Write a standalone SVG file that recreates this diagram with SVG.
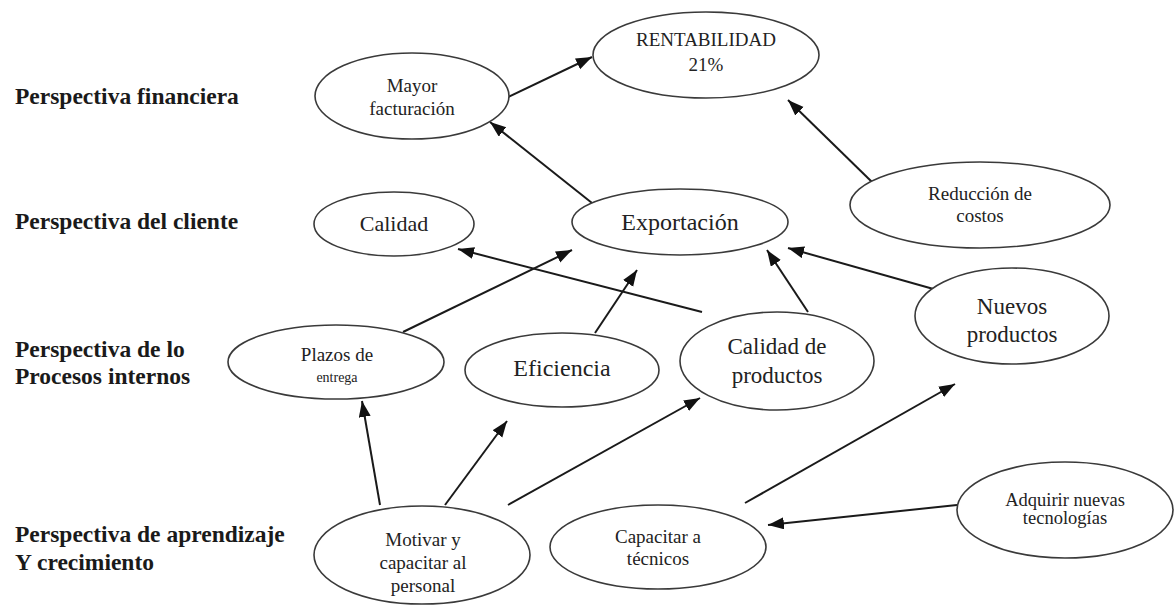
<svg xmlns="http://www.w3.org/2000/svg" width="1174" height="615" viewBox="0 0 1174 615">
<style>
.n ellipse{fill:#fff;stroke:#3a3a3a;stroke-width:1.6}
.t{font-family:"Liberation Serif","Times New Roman",serif;fill:#222;text-anchor:middle}
.h{font-family:"Liberation Serif","Times New Roman",serif;font-weight:bold;fill:#1a1a1a;font-size:23.5px}
#edges line{stroke:#1a1a1a;stroke-width:2;marker-end:url(#ah)}
</style>
<defs>
<marker id="ah" markerUnits="userSpaceOnUse" markerWidth="18" markerHeight="14" refX="16" refY="6" orient="auto">
<path d="M0,0 L16,6 L0,12 Z" fill="#111"/>
</marker>
</defs>
<rect width="1174" height="615" fill="#fff"/>
<g id="labels">
<text class="h" x="15" y="104">Perspectiva financiera</text>
<text class="h" x="15" y="229">Perspectiva del cliente</text>
<text class="h" x="15" y="357">Perspectiva de lo</text>
<text class="h" x="15" y="384">Procesos internos</text>
<text class="h" x="15" y="542">Perspectiva de aprendizaje</text>
<text class="h" x="15" y="570">Y crecimiento</text>
</g>
<g id="edges">
<line x1="508" y1="97" x2="592" y2="57"/>
<line x1="592" y1="203" x2="490" y2="122"/>
<line x1="872" y1="182" x2="788" y2="100"/>
<line x1="403" y1="332" x2="572" y2="250"/>
<line x1="595" y1="333" x2="637" y2="270"/>
<line x1="702" y1="312" x2="458" y2="249"/>
<line x1="808" y1="312" x2="767" y2="250"/>
<line x1="937" y1="290" x2="788" y2="248"/>
<line x1="380" y1="505" x2="362" y2="401"/>
<line x1="445" y1="505" x2="507" y2="421"/>
<line x1="508" y1="505" x2="700" y2="398"/>
<line x1="745" y1="503" x2="955" y2="384"/>
<line x1="957" y1="505" x2="768" y2="525"/>
</g>
<g id="mayor" class="n"><ellipse cx="412" cy="96" rx="97" ry="43"/>
<text class="t" x="412" y="92" font-size="19">Mayor</text><text class="t" x="412" y="115" font-size="19">facturación</text></g>
<g id="rentabilidad" class="n"><ellipse cx="706" cy="55" rx="113" ry="43"/>
<text class="t" x="706" y="46" font-size="19">RENTABILIDAD</text><text class="t" x="706" y="71" font-size="19">21%</text></g>
<g id="calidad" class="n"><ellipse cx="394" cy="224" rx="80" ry="32"/>
<text class="t" x="394" y="231" font-size="22">Calidad</text></g>
<g id="exportacion" class="n"><ellipse cx="680" cy="222" rx="108" ry="33"/>
<text class="t" x="680" y="230" font-size="24">Exportación</text></g>
<g id="reduccion" class="n"><ellipse cx="980" cy="205" rx="130" ry="43"/>
<text class="t" x="980" y="200" font-size="19">Reducción de</text><text class="t" x="980" y="222" font-size="19">costos</text></g>
<g id="plazos" class="n"><ellipse cx="336" cy="362" rx="108" ry="37"/>
<text class="t" x="337" y="361" font-size="19">Plazos de</text><text class="t" x="337" y="382" font-size="14">entrega</text></g>
<g id="eficiencia" class="n"><ellipse cx="562" cy="370" rx="97" ry="37"/>
<text class="t" x="562" y="376" font-size="24">Eficiencia</text></g>
<g id="calidadprod" class="n"><ellipse cx="777" cy="361" rx="97" ry="49"/>
<text class="t" x="777" y="354" font-size="23">Calidad de</text><text class="t" x="777" y="383" font-size="23">productos</text></g>
<g id="nuevos" class="n"><ellipse cx="1012" cy="316" rx="97" ry="48"/>
<text class="t" x="1012" y="314" font-size="23">Nuevos</text><text class="t" x="1012" y="342" font-size="23">productos</text></g>
<g id="motivar" class="n"><ellipse cx="422" cy="555" rx="108" ry="49"/>
<text class="t" x="423" y="546" font-size="19">Motivar y</text><text class="t" x="423" y="569" font-size="19">capacitar al</text><text class="t" x="423" y="592" font-size="19">personal</text></g>
<g id="capacitar" class="n"><ellipse cx="658" cy="547" rx="108" ry="42"/>
<text class="t" x="658" y="543" font-size="19">Capacitar a</text><text class="t" x="658" y="565" font-size="19">técnicos</text></g>
<g id="adquirir" class="n"><ellipse cx="1065" cy="510" rx="108" ry="48"/>
<text class="t" x="1065" y="506" font-size="18.5">Adquirir nuevas</text><text class="t" x="1065" y="524" font-size="18.5">tecnologías</text></g>
</svg>
